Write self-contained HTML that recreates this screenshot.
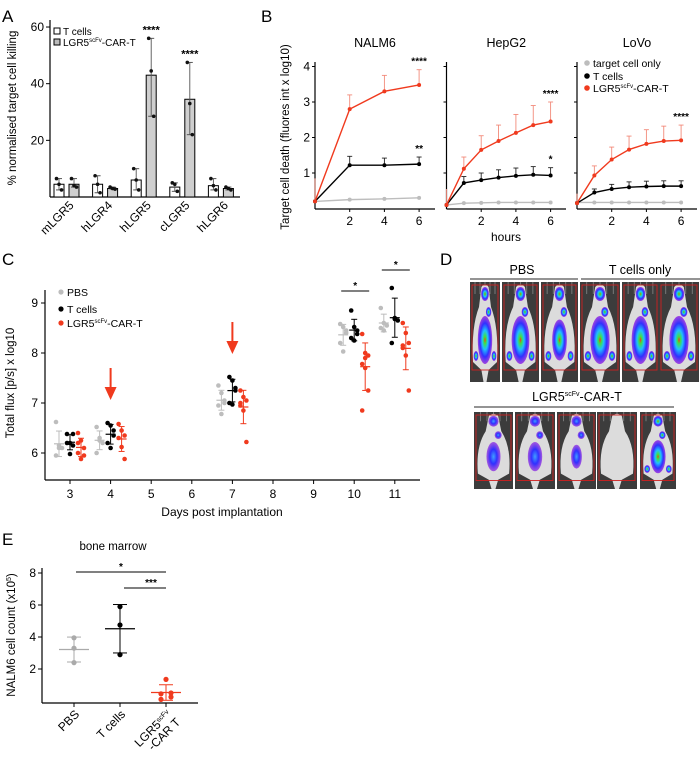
<!DOCTYPE html>
<html><head><meta charset="utf-8"><style>
body{margin:0;background:#fff;}
svg{display:block;font-family:"Liberation Sans",Arial,sans-serif;}
</style></head><body>
<svg id="fig" width="700" height="765" viewBox="0 0 700 765" xmlns="http://www.w3.org/2000/svg">
<defs>
<radialGradient id="blob" cx="50%" cy="50%" r="50%">
<stop offset="0" stop-color="#ff3020"/><stop offset="0.15" stop-color="#40e040"/><stop offset="0.4" stop-color="#20c0ff"/><stop offset="0.7" stop-color="#3030ff"/><stop offset="1" stop-color="#9020e0" stop-opacity="0.8"/></radialGradient>
<radialGradient id="blobw" cx="50%" cy="50%" r="50%">
<stop offset="0" stop-color="#40a0ff"/><stop offset="0.5" stop-color="#3030ff"/><stop offset="1" stop-color="#8a20e0" stop-opacity="0.7"/></radialGradient>
</defs>
<g font-size="17">
<text x="2" y="22">A</text>
<text x="261" y="22">B</text>
<text x="2" y="265">C</text>
<text x="440" y="265">D</text>
<text x="2" y="545">E</text>
</g>
<g id="gA"></g>
<g id="gB"></g>
<g id="gC"></g>
<g id="gD"></g>
<g id="gE"></g>
</svg>
<script>
const NS="http://www.w3.org/2000/svg";
function el(parent,tag,attrs,text){const e=document.createElementNS(NS,tag);for(const k in attrs)e.setAttribute(k,attrs[k]);if(text!==undefined)e.textContent=text;parent.appendChild(e);return e;}

// ===== Panel A data =====
const aCategories=["mLGR5","hLGR4","hLGR5","cLGR5","hLGR6"];
const aTcellMeans=[4.5,4.5,6,3.5,4];
const aCarMeans=[4.5,3,43,34.5,3];
const aTcellPoints=[[6.5,4.5,2.5],[7.5,4.5,1.5],[10,6,2.5],[5,4.5,2],[6.5,4,2.5]];
const aCarPoints=[[6.5,4,3.5],[3.5,3,2.8],[56,44.5,28.5],[47.5,33,22],[3.5,3,2.5]];
const aYTicks=[20,40,60];
const aStars=["","","****","****",""];
// ===== Panel B data =====
const bTitles=["NALM6","HepG2","LoVo"];
const bTimes=[[0,2,4,6],[0,1,2,3,4,5,6],[0,1,2,3,4,5,6]];
const bCar=[[0.2,2.8,3.3,3.48],[0.1,1.12,1.65,1.9,2.13,2.35,2.45],[0.15,0.93,1.38,1.66,1.82,1.9,1.92]];
const bCarErr=[[0.65,0.4,0.45,0.43],[0.45,0.33,0.4,0.45,0.52,0.55,0.55],[0.27,0.27,0.35,0.38,0.4,0.42,0.43]];
const bTcell=[[0.2,1.22,1.22,1.25],[0.1,0.72,0.8,0.87,0.92,0.95,0.93],[0.15,0.45,0.55,0.6,0.62,0.63,0.63]];
const bTcellErr=[[0,0.25,0.2,0.2],[0,0.18,0.2,0.22,0.22,0.23,0.22],[0,0.1,0.13,0.15,0.15,0.15,0.15]];
const bTarget=[[0.2,0.25,0.27,0.3],[0.1,0.15,0.16,0.17,0.17,0.17,0.17],[0.17,0.17,0.17,0.17,0.17,0.17,0.17]];
const bYTicks=[1,2,3,4];
const bXTicks=[2,4,6];
const bStarsCar=["****","****","****"];
const bStarsT=["**","*",""];
// ===== Panel C data =====
const cDays=[3,4,7,10,11];
const cPBS=[[6.62,6.15,6.1,5.95,6.1],[6.52,6.3,6.2,6.0,6.25],[7.35,7.2,7.0,6.95,6.78,7.05],[8.58,8.52,8.4,8.2,8.03,8.45],[8.9,8.6,8.55,8.5,8.45]];
const cTcells=[[6.38,6.2,6.15,6.2,5.98,6.38],[6.6,6.55,6.35,6.2,6.1,6.45],[7.52,7.45,7.3,7.0,6.97,7.25],[8.85,8.52,8.45,8.3,8.25,8.38],[9.3,8.7,8.65,8.2,8.68]];
const cCar=[[6.4,6.25,6.1,6.0,5.88,5.95,6.2],[6.58,6.45,6.35,6.3,6.12,5.88],[7.25,7.12,7.05,6.95,6.85,6.22,7.0],[8.38,8.0,7.95,7.78,7.7,7.25,6.85,7.9],[8.6,8.4,8.2,8.1,7.95,7.25,8.15]];
const cXTicks=[3,4,5,6,7,8,9,10,11];
const cYTicks=[6,7,8,9];
const cArrowDays=[4,7];
// ===== Panel E data =====
const eGroups=["PBS","T cells","LGR5scFv-CAR T"];
const ePBS=[3.95,3.3,2.4];
const eTcells=[5.9,4.75,2.9];
const eCar=[1.35,0.45,0.5,0.1,0.25];
const eYTicks=[2,4,6,8];

function mean(a){return a.reduce((s,v)=>s+v,0)/a.length;}
function sd(a){const m=mean(a);return Math.sqrt(a.reduce((s,v)=>s+(v-m)*(v-m),0)/(a.length-1));}

// ===== Panel A =====
(function(){
const g=document.getElementById('gA');
const yA=v=>197-v*2.833;
const xG=i=>66.5+i*38.6;
el(g,'line',{x1:50,y1:20,x2:50,y2:197,stroke:'#000','stroke-width':1.2});
el(g,'line',{x1:50,y1:197,x2:240,y2:197,stroke:'#000','stroke-width':1.2});
aYTicks.forEach(t=>{const l=el(g,'line',{x1:46,x2:50,y1:yA(t),y2:yA(t),stroke:'#000'});
const tx=el(g,'text',{x:44,y:yA(t)+4,'font-size':12,'text-anchor':'end'},t);});
const yl=el(g,'text',{x:0,y:0,'font-size':11.5,'text-anchor':'middle',transform:'translate(16,108) rotate(-90)'},'% normalised target cell killing');

aCategories.forEach((c,i)=>{
 const x=xG(i);
 [[aTcellMeans[i],aTcellPoints[i],'#fff',x-7.5,'a-bar-tcells'],[aCarMeans[i],aCarPoints[i],'#cfcfcf',x+7.5,'a-bar-car']].forEach(([m,pts,fill,cx,nm])=>{
  const r=el(g,'rect',{x:cx-5,y:yA(m),width:10,height:197-yA(m),fill:fill,stroke:'#000','stroke-width':1});
  
  const mx=Math.max(...pts),mn=Math.min(...pts);
  el(g,'line',{x1:cx,x2:cx,y1:yA(mx),y2:yA(mn),stroke:'#555','stroke-width':0.9});
  el(g,'line',{x1:cx-3,x2:cx+3,y1:yA(mx),y2:yA(mx),stroke:'#555'});
  el(g,'line',{x1:cx-3,x2:cx+3,y1:yA(mn),y2:yA(mn),stroke:'#555'});
  pts.forEach((p,j)=>{const d=el(g,'circle',{cx:cx+(j-1)*2.5,cy:yA(p),r:1.8,fill:'#111'});});
 });
 if(aStars[i]){const s=el(g,'text',{x:x+7.5,y:yA(Math.max(...aCarPoints[i]))-5,'font-size':11,'font-weight':'bold','text-anchor':'middle'},aStars[i]);}
 const lb=el(g,'text',{x:0,y:0,'font-size':12,'text-anchor':'end',transform:`translate(${x+8},${206}) rotate(-45)`},c);
 
});
const lg=el(g,'g',{});
el(lg,'rect',{x:54,y:28,width:6,height:6,fill:'#fff',stroke:'#000'});
el(lg,'text',{x:63,y:35,'font-size':10},'T cells');
el(lg,'rect',{x:54,y:39,width:6,height:6,fill:'#bbb',stroke:'#000'});
const t2=el(lg,'text',{x:63,y:46,'font-size':10},'LGR5');el(t2,'tspan',{'font-size':6,dy:-4},'scFv');el(t2,'tspan',{dy:4},'-CAR-T');
})();

// ===== Panel B =====
(function(){
const g=document.getElementById('gB');
const x0s=[315,446.5,577],xEnd=[435,566,697];
const pxh=17.35;
const yB=v=>208.5-v*35.5;
bTitles.forEach((ttl,k)=>{
 const xB=h=>x0s[k]+h*pxh;
 el(g,'line',{x1:x0s[k],x2:x0s[k],y1:62,y2:209,stroke:'#000','stroke-width':1.2});
 el(g,'line',{x1:x0s[k],x2:xEnd[k],y1:209,y2:209,stroke:'#000','stroke-width':1.2});
 const tt=el(g,'text',{x:(x0s[k]+xEnd[k])/2,y:47,'font-size':12.5,'text-anchor':'middle'},ttl);
 bYTicks.forEach(t=>{el(g,'line',{x1:x0s[k]-3,x2:x0s[k],y1:yB(t),y2:yB(t),stroke:'#000'});
  if(k===0){const tl=el(g,'text',{x:x0s[k]-5,y:yB(t)+4,'font-size':12,'text-anchor':'end'},t);}});
 bXTicks.forEach(t=>{el(g,'line',{x1:xB(t),x2:xB(t),y1:209,y2:212,stroke:'#000'});
  const tl=el(g,'text',{x:xB(t),y:225,'font-size':12,'text-anchor':'middle'},t);});
 const T=bTimes[k];
 [[bTarget[k],null,'#bdbdbd','b-line-target'],[bTcell[k],bTcellErr[k],'#000','b-line-tcells'],[bCar[k],bCarErr[k],'#f03a1e','b-line-car']].forEach(([vals,errs,col,nm])=>{
  if(errs)vals.forEach((v,i)=>{if(errs[i]>0){const ec=nm==='b-line-car'?'#f28a7a':'#222';el(g,'line',{x1:xB(T[i]),x2:xB(T[i]),y1:yB(v),y2:yB(v+errs[i]),stroke:ec,'stroke-width':0.9});if(i>0)el(g,'line',{x1:xB(T[i])-2.5,x2:xB(T[i])+2.5,y1:yB(v+errs[i]),y2:yB(v+errs[i]),stroke:ec,'stroke-width':0.9});}});
  const p=el(g,'polyline',{points:vals.map((v,i)=>xB(T[i])+','+yB(v)).join(' '),fill:'none',stroke:col,'stroke-width':1.4});
  
  vals.forEach((v,i)=>{const c=el(g,'circle',{cx:xB(T[i]),cy:yB(v),r:2,fill:col});});
 });
 const lc=bCar[k].length-1;
 if(bStarsCar[k]){const s=el(g,'text',{x:xB(6),y:yB(bCar[k][lc]+bCarErr[k][lc])-5,'font-size':10,'font-weight':'bold','text-anchor':'middle'},bStarsCar[k]);}
 if(bStarsT[k]){const s=el(g,'text',{x:xB(6),y:yB(bTcell[k][lc]+bTcellErr[k][lc])-5,'font-size':10,'font-weight':'bold','text-anchor':'middle'},bStarsT[k]);}
});
const yl=el(g,'text',{x:0,y:0,'font-size':11.5,'text-anchor':'middle',transform:'translate(289,137) rotate(-90)'},'Target cell death (fluores int x log10)');

const xl=el(g,'text',{x:506,y:241,'font-size':12,'text-anchor':'middle'},'hours');
const lg=el(g,'g',{});
[['#bdbdbd','target cell only',63],['#000','T cells',76],['#f03a1e',null,88]].forEach(([c,t,y])=>{el(lg,'circle',{cx:587,cy:y,r:2.8,fill:c});
 if(t)el(lg,'text',{x:593,y:y+4,'font-size':10.5},t);else{const tx=el(lg,'text',{x:593,y:y+4,'font-size':10.5},'LGR5');el(tx,'tspan',{'font-size':6,dy:-4},'scFv');el(tx,'tspan',{dy:4},'-CAR-T');}});
})();

// ===== Panel C =====
(function(){
const g=document.getElementById('gC');
const yC=v=>453-(v-6)*50;
const xC=d=>70+(d-3)*40.6;
el(g,'line',{x1:45,x2:45,y1:290,y2:480,stroke:'#000','stroke-width':1.2});
el(g,'line',{x1:45,x2:420,y1:480,y2:480,stroke:'#000','stroke-width':1.2});
cYTicks.forEach(t=>{el(g,'line',{x1:41,x2:45,y1:yC(t),y2:yC(t),stroke:'#000'});const tl=el(g,'text',{x:38,y:yC(t)+4,'font-size':12,'text-anchor':'end'},t);});
cXTicks.forEach(t=>{el(g,'line',{x1:xC(t),x2:xC(t),y1:480,y2:484,stroke:'#000'});const tl=el(g,'text',{x:xC(t),y:498,'font-size':12,'text-anchor':'middle'},t);});
const yl=el(g,'text',{x:0,y:0,'font-size':11.5,'text-anchor':'middle',transform:'translate(14,383) rotate(-90)'},'Total flux [p/s] x log10');
const xl=el(g,'text',{x:222,y:516,'font-size':12,'text-anchor':'middle'},'Days post implantation');
cDays.forEach((d,i)=>{
 [[cPBS[i],'#bdbdbd',-11,'c-point-pbs'],[cTcells[i],'#000',0,'c-point-tcells'],[cCar[i],'#f03a1e',11,'c-point-car']].forEach(([pts,col,off,nm])=>{
  const cx=xC(d)+off,m=mean(pts),s=sd(pts);
  el(g,'line',{x1:cx,x2:cx,y1:yC(m+s),y2:yC(m-s),stroke:col,'stroke-width':1});
  [m+s,m-s].forEach(v=>el(g,'line',{x1:cx-3,x2:cx+3,y1:yC(v),y2:yC(v),stroke:col}));
  el(g,'line',{x1:cx-5,x2:cx+5,y1:yC(m),y2:yC(m),stroke:col,'stroke-width':1.2});
  pts.forEach((p,j)=>{const c=el(g,'circle',{cx:cx+((j%3)-1)*3,cy:yC(p),r:2.3,fill:col});});
 });
});
cArrowDays.forEach(d=>{const a=el(g,'g',{});
 const top=d===4?368:322;el(a,'line',{x1:xC(d),x2:xC(d),y1:top,y2:top+22,stroke:'#f03a1e','stroke-width':2});
 el(a,'polygon',{points:`${xC(d)-6},${top+19} ${xC(d)+6},${top+19} ${xC(d)},${top+32}`,fill:'#f03a1e'});});
[[10,291],[11,270]].forEach(([d,y])=>{const s=el(g,'g',{});
 el(s,'line',{x1:xC(d)-13,x2:xC(d)+15,y1:y,y2:y,stroke:'#000'});el(s,'text',{x:xC(d)+1,y:y-2,'font-size':10,'font-weight':'bold','text-anchor':'middle'},'*');});
const lg=el(g,'g',{});
[['#bdbdbd','PBS',292],['#000','T cells',309],['#f03a1e',null,323]].forEach(([c,t,y])=>{el(lg,'circle',{cx:61,cy:y,r:2.6,fill:c});
 if(t)el(lg,'text',{x:67,y:y+4,'font-size':10.5},t);else{const tx=el(lg,'text',{x:67,y:y+4,'font-size':10.5},'LGR5');el(tx,'tspan',{'font-size':6,dy:-4},'scFv');el(tx,'tspan',{dy:4},'-CAR-T');}});
})();

// ===== Panel D (imaging) =====
(function(){
const g=document.getElementById('gD');
const t1=el(g,'text',{x:522,y:274,'font-size':12.5,'text-anchor':'middle'},'PBS');
const t2=el(g,'text',{x:640,y:274,'font-size':12.5,'text-anchor':'middle'},'T cells only');
el(g,'line',{x1:470,x2:578,y1:279,y2:279,stroke:'#555','stroke-width':1.3});
el(g,'line',{x1:581,x2:700,y1:279,y2:279,stroke:'#555','stroke-width':1.3});
const t3=el(g,'text',{x:577,y:401,'font-size':12.5,'text-anchor':'middle'},'LGR5');el(t3,'tspan',{'font-size':7,dy:-5},'scFv');el(t3,'tspan',{dy:5},'-CAR-T');

el(g,'line',{x1:474,x2:674,y1:407,y2:407,stroke:'#555','stroke-width':1.3});
function mouse(x,y,w,h,level){
 const m=el(g,'g',{});
 el(m,'rect',{x:x,y:y,width:w,height:h,fill:'#3c3c3c'});
 for(let i=1;i<6;i++)el(m,'line',{x1:x+w*i/6,x2:x+w*i/6,y1:y,y2:y+h*0.12,stroke:'#777','stroke-width':1});
 const cx=x+w/2;
 el(m,'path',{d:`M${cx-w*0.12},${y+h*0.05} Q${cx},${y} ${cx+w*0.12},${y+h*0.05} L${cx+w*0.2},${y+h*0.25} Q${cx+w*0.46},${y+h*0.45} ${cx+w*0.4},${y+h*0.8} L${cx+w*0.12},${y+h*0.88} L${cx+w*0.05},${y+h} L${cx-w*0.05},${y+h} L${cx-w*0.12},${y+h*0.88} L${cx-w*0.4},${y+h*0.8} Q${cx-w*0.46},${y+h*0.45} ${cx-w*0.2},${y+h*0.25} Z`,fill:'#dcdcdc'});
 if(level>0){const f=level>1?'url(#blob)':'url(#blobw)';
  el(m,'ellipse',{cx:cx,cy:y+h*0.12,rx:w*0.13,ry:h*0.07,fill:f});
  el(m,'ellipse',{cx:cx+w*0.12,cy:y+h*0.3,rx:w*0.09,ry:h*0.05,fill:f});
  el(m,'ellipse',{cx:cx,cy:y+h*0.58,rx:w*0.12+w*0.12*Math.min(level,2)/2,ry:h*(0.14+0.1*Math.min(level,2)/2),fill:f});
  if(level>1){el(m,'ellipse',{cx:x+w*0.2,cy:y+h*0.74,rx:w*0.08,ry:h*0.05,fill:'url(#blob)'});el(m,'ellipse',{cx:x+w*0.8,cy:y+h*0.74,rx:w*0.08,ry:h*0.05,fill:'url(#blob)'});}}
 el(m,'rect',{x:x+2,y:y+3,width:w-4,height:h*0.85,fill:'none',stroke:'#d02020','stroke-width':0.9});
}
[[470,30],[502,37],[541,37],[580,40],[622,37],[659,40]].forEach(([x,w],i)=>mouse(x,282,w,100,i===2?1.3:2));
[[474,39,1],[515,40,1],[557,39,0.3],[597,40,0],[640,36,1.5]].forEach(([x,w,l])=>mouse(x,412,w,77,l));
})();

// ===== Panel E =====
(function(){
const g=document.getElementById('gE');
const yE=v=>701-v*16;
const xs=[74,120,166];
el(g,'line',{x1:42,x2:42,y1:568,y2:703,stroke:'#000','stroke-width':1.2});
el(g,'line',{x1:42,x2:198,y1:703,y2:703,stroke:'#000','stroke-width':1.2});
eYTicks.forEach(t=>{el(g,'line',{x1:38,x2:42,y1:yE(t),y2:yE(t),stroke:'#000'});const tl=el(g,'text',{x:36,y:yE(t)+4,'font-size':12,'text-anchor':'end'},t);});
xs.forEach(x=>el(g,'line',{x1:x,x2:x,y1:703,y2:707,stroke:'#000'}));
const tt=el(g,'text',{x:113,y:550,'font-size':11.5,'text-anchor':'middle'},'bone marrow');
const yl=el(g,'text',{x:0,y:0,'font-size':11.5,'text-anchor':'middle',transform:'translate(15,635) rotate(-90)'},'NALM6 cell count (x10');
el(yl,'tspan',{'font-size':7,dy:-4},'5');el(yl,'tspan',{dy:4},')');

[[ePBS,'#aaaaaa','e-point-pbs'],[eTcells,'#000','e-point-tcells'],[eCar,'#f03a1e','e-point-car']].forEach(([pts,col,nm],i)=>{
 const x=xs[i],m=mean(pts),s=sd(pts);
 el(g,'line',{x1:x,x2:x,y1:yE(m+s),y2:yE(Math.max(m-s,0)),stroke:col,'stroke-width':1});
 [m+s,Math.max(m-s,0)].forEach(v=>el(g,'line',{x1:x-7,x2:x+7,y1:yE(v),y2:yE(v),stroke:col}));
 el(g,'line',{x1:x-15,x2:x+15,y1:yE(m),y2:yE(m),stroke:col,'stroke-width':1.2});
 pts.forEach((p,j)=>{const off=pts.length>3?[0,-5,5,-5,5][j]:0;const c=el(g,'circle',{cx:x+off,cy:yE(p),r:2.6,fill:col});});
});
[[76,166,572,'*'],[124,166,588,'***']].forEach(([a,b,y,s])=>{const sg=el(g,'g',{});
 el(sg,'line',{x1:a,x2:b,y1:y,y2:y,stroke:'#000'});el(sg,'text',{x:a+(b-a)/2+(s==='*'?0:6),y:y-2,'font-size':10,'font-weight':'bold','text-anchor':'middle'},s);});
const lab=[['PBS',80],['T cells',126]];
lab.forEach(([t,x])=>{const l=el(g,'text',{x:0,y:0,'font-size':12,'text-anchor':'end',transform:`translate(${x},${715}) rotate(-45)`},t);});
const l3=el(g,'text',{x:0,y:0,'font-size':12,'text-anchor':'end',transform:'translate(172,715) rotate(-45)'},'LGR5');el(l3,'tspan',{'font-size':7,dy:-4},'scFv');

const l4=el(g,'text',{x:0,y:0,'font-size':12,'text-anchor':'end',transform:'translate(181,723) rotate(-45)'},'-CAR T');

})();
</script>
</body></html>
